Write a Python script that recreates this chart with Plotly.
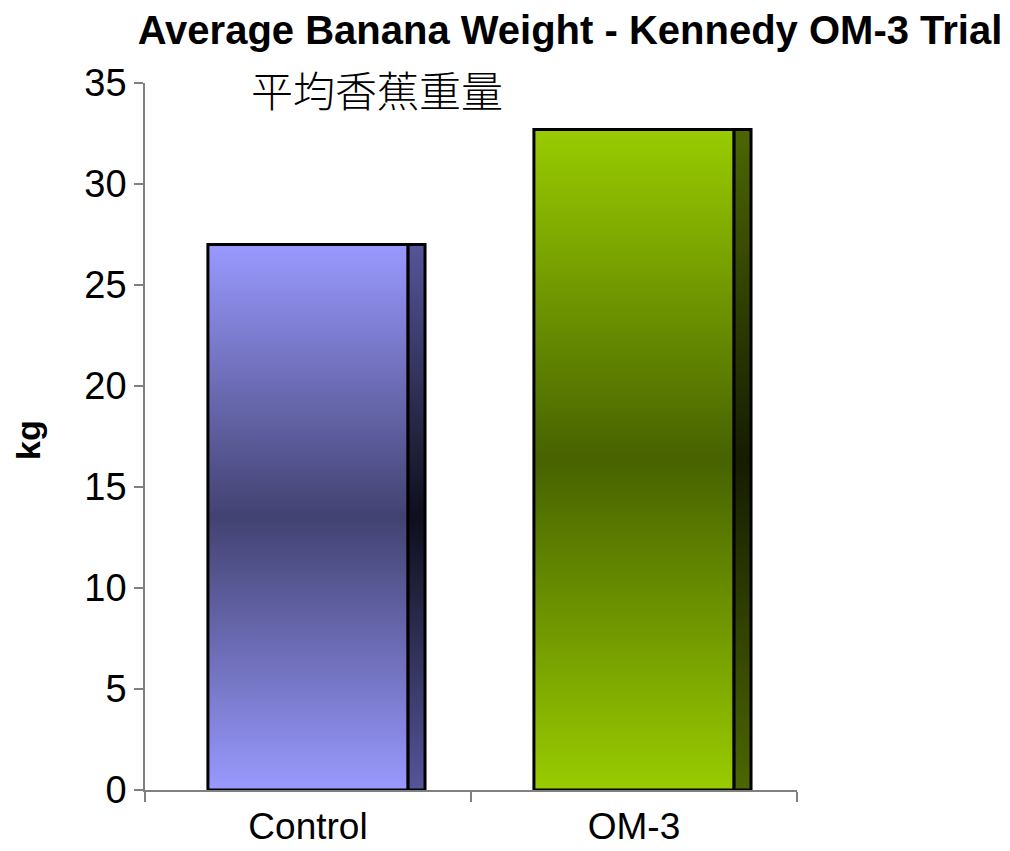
import plotly.graph_objects as go

# ---- data ----
categories = ["Control", "OM-3"]
values = [27.0, 32.7]
title_text = "Average Banana Weight - Kennedy OM-3 Trial"
subtitle_text = "平均香蕉重量"
y_label = "kg"
y_ticks = [0, 5, 10, 15, 20, 25, 30, 35]

# ---- style ----
front_light = ["#9999FF", "#99CC00"]
front_dark = ["#424271", "#476200"]
side_light = ["#555599", "#4D6600"]
side_dark = ["#0E0E1C", "#151C00"]
HALF = 0.307   # half width of bar front (category units)
DEPTH = 0.052  # side face width
PAGE_PAD = 8   # default body margin of the html page

W, H = 1010 - PAGE_PAD, 851 - PAGE_PAD

fig = go.Figure()
for i, (cat, v) in enumerate(zip(categories, values)):
    x0, x1, x2 = i - HALF, i + HALF, i + HALF + DEPTH
    fig.add_trace(go.Scatter(
        x=[x0, x1, x1, x0, x0], y=[0, 0, v, v, 0],
        mode="lines", fill="toself",
        fillgradient=dict(type="vertical",
                          colorscale=[[0, front_light[i]], [0.5, front_dark[i]], [1, front_light[i]]]),
        line=dict(color="black", width=3), hoverinfo="skip", showlegend=False, name=cat))
    fig.add_trace(go.Scatter(
        x=[x1, x2, x2, x1, x1], y=[0, 0, v, v, 0],
        mode="lines", fill="toself",
        fillgradient=dict(type="vertical",
                          colorscale=[[0, side_light[i]], [0.5, side_dark[i]], [1, side_light[i]]]),
        line=dict(color="black", width=3), hoverinfo="skip", showlegend=False, name=cat + " side"))

fig.update_layout(
    template="none",
    width=W, height=H,
    margin=dict(l=145 - PAGE_PAD, r=213, t=83 - PAGE_PAD, b=61, autoexpand=False),
    paper_bgcolor="white", plot_bgcolor="white",
    font=dict(family="Liberation Sans, Arial, sans-serif", color="black"),
    title=dict(text="<b>" + title_text + "</b>", x=(570 - PAGE_PAD) / W, xref="container", xanchor="center",
               y=1 - (30 - PAGE_PAD) / H, yref="container", yanchor="middle",
               font=dict(size=40, family="Liberation Sans, Arial, sans-serif", color="black")),
    xaxis=dict(range=[-0.5, 1.5], tickvals=list(range(len(categories))), ticktext=categories,
               ticks="", showgrid=False, zeroline=False, showline=True, linecolor="#808080", linewidth=1.5,
               automargin=False, tickfont=dict(size=37), ticklabelstandoff=3,
               minor=dict(tickvals=[-0.5, 0.5, 1.5], ticks="outside", ticklen=10,
                          tickcolor="#808080", tickwidth=1.5, showgrid=False)),
    yaxis=dict(range=[0, 35], tickvals=y_ticks, ticks="outside", ticklen=9, tickcolor="#808080",
               tickwidth=1.5, showgrid=False, zeroline=False, showline=True, linecolor="#808080",
               linewidth=1.5, automargin=False, tickfont=dict(size=38)),
    annotations=[
        dict(text=subtitle_text, x=(377 - 145) / 652, y=(790 - 88) / 707, xref="paper", yref="paper",
             xanchor="center", yanchor="middle", showarrow=False,
             font=dict(size=42, weight=300, family="Noto Sans CJK TC, Noto Sans CJK SC", color="black")),
        dict(text="<b>" + y_label + "</b>", x=(28 - 145) / 652, y=(790 - 440) / 707,
             xref="paper", yref="paper", xanchor="center", yanchor="middle", textangle=-90,
             showarrow=False, font=dict(size=34, color="black")),
    ],
)

fig.write_html("out.html")
